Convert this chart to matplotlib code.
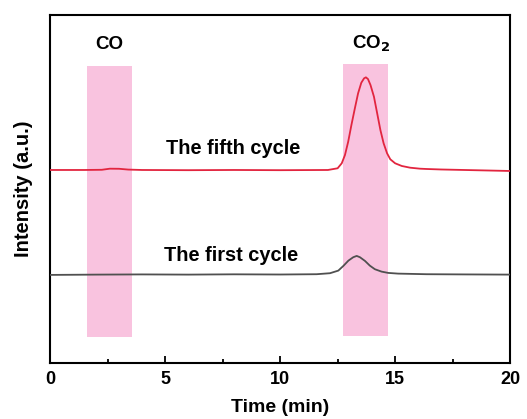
import matplotlib
matplotlib.use("Agg")
import matplotlib.pyplot as plt
from matplotlib.ticker import MultipleLocator

plt.rcParams['font.family'] = ['Liberation Sans', 'DejaVu Sans']
plt.rcParams['font.weight'] = 'bold'

# fifth cycle (red trace)
t_fifth = [0, 1.5, 2.25, 2.6, 3.0, 3.4, 4, 6, 8, 10, 12.08, 12.50, 12.68, 12.82,
           12.96, 13.10, 13.25, 13.39, 13.53, 13.65, 13.73, 13.82, 13.93, 14.08,
           14.22, 14.36, 14.50, 14.65, 14.79, 15.00, 15.29, 15.65, 16.08, 16.36,
           17, 18, 19, 20]
i_fifth = [193, 193, 193.2, 194.3, 194.2, 193.4, 193, 192.8, 193, 192.8, 193,
           194.7, 199.7, 208, 221.3, 238, 254.7, 269.7, 280.3, 284.7, 285.7, 284,
           278, 266.3, 249.7, 233, 219.7, 209.7, 203.7, 199.7, 197, 195.3, 194.3,
           194, 193.5, 193, 192.5, 192]

# first cycle (dark trace)
t_first = [0, 2, 4, 6, 8, 10, 11.59, 12.17, 12.53, 12.75, 12.97, 13.18, 13.33,
           13.47, 13.69, 13.90, 14.12, 14.41, 14.70, 15.13, 16.36, 18, 20]
i_first = [88, 88.3, 88.5, 88.3, 88.6, 88.4, 88.7, 89.7, 92.3, 97, 102.3, 105.7,
           107, 105.7, 102, 97.3, 93.7, 91.3, 90, 89.3, 88.7, 88.5, 88.3]

# shaded retention windows
band_names = ['CO', 'CO$_2$']
band_x0 = [1.6, 12.75]
band_x1 = [3.57, 14.7]
band_y0 = [26, 27]
band_y1 = [297, 299]
name_x = [2.58, 13.95]

fig, ax = plt.subplots(figsize=(5.27, 4.19), dpi=100)
fig.subplots_adjust(left=0.095, right=0.968, bottom=0.134, top=0.964)

for name, nx, a, b, lo, hi in zip(band_names, name_x, band_x0, band_x1,
                                  band_y0, band_y1):
    ax.fill_between([a, b], lo, hi, color='#f9c3df', lw=0, zorder=1)
    ax.text(nx, 319, name, ha='center', va='center', fontsize=13.5,
            fontweight='bold')

ax.plot(t_fifth, i_fifth, color='#e2253f', lw=1.3, zorder=3)
ax.plot(t_first, i_first, color='#505050', lw=1.3, zorder=3)

ax.text(7.96, 214, 'The fifth cycle', ha='center', va='center', fontsize=14.4,
        fontweight='bold')
ax.text(7.85, 107, 'The first cycle', ha='center', va='center', fontsize=14.4,
        fontweight='bold')

ax.set_xlim(0, 20)
ax.set_ylim(0, 348)
ax.xaxis.set_major_locator(MultipleLocator(5))
ax.xaxis.set_minor_locator(MultipleLocator(2.5))
ax.tick_params(axis='x', which='both', direction='in', top=False, labelsize=13,
               width=1.3, pad=6)
ax.tick_params(axis='x', which='major', length=5)
ax.tick_params(axis='x', which='minor', length=3)
ax.set_yticks([])
for sp in ax.spines.values():
    sp.set_linewidth(1.5)

ax.set_xlabel('Time (min)', fontsize=14, fontweight='bold', labelpad=8)
ax.set_ylabel('Intensity (a.u.)', fontsize=14.5, fontweight='bold', labelpad=12)

plt.savefig('out.png', dpi=100)
